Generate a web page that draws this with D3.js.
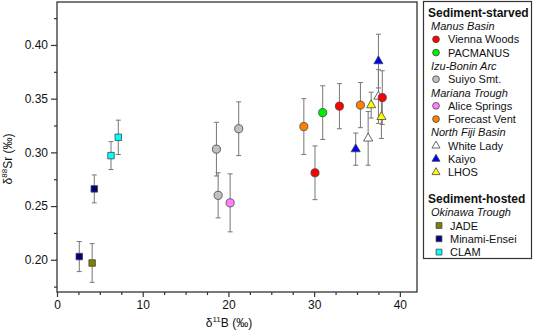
<!DOCTYPE html>
<html>
<head>
<meta charset="utf-8">
<script src="https://cdn.jsdelivr.net/npm/d3@7"></script>
<style>
  body { margin: 0; background: #fff; }
  text { font-family: "Liberation Sans", Arial, sans-serif; fill: #111; }
</style>
</head>
<body>
<div id="chart"></div>
<script>
// each point: [d11B, d88Sr, 2SD error]
const viennaWoods = [[30.1, 0.281, 0.025], [32.95, 0.343, 0.021], [37.95, 0.351, 0.025]];
const pacmanus = [[31.0, 0.337, 0.025]];
const suiyo = [[18.6, 0.303, 0.025], [21.2, 0.322, 0.025], [18.8, 0.260, 0.021]];
const aliceSprings = [[20.2, 0.253, 0.027]];
const forecastVent = [[28.8, 0.324, 0.026], [35.4, 0.344, 0.021]];
const whiteLady = [[36.3, 0.313, 0.025], [37.5, 0.352, 0.025]];
const kaiyo = [[34.85, 0.303, 0.015], [37.5, 0.385, 0.025]];
const lhos = [[36.65, 0.344, 0.012], [37.85, 0.333, 0.020]];
const jade = [[4.1, 0.197, 0.018]];
const minamiEnsei = [[4.35, 0.266, 0.013], [2.6, 0.203, 0.014]];
const clam = [[6.3, 0.297, 0.013], [7.15, 0.314, 0.016]];

const xMajor = [0, 10, 20, 30, 40];
const xMinor = [2.5, 5, 7.5, 12.5, 15, 17.5, 22.5, 25, 27.5, 32.5, 35, 37.5];
const yMajor = [0.20, 0.25, 0.30, 0.35, 0.40];
const yMinor = [0.175, 0.225, 0.275, 0.325, 0.375, 0.425];

// legend rows: kind, label, series
const legendRows = [
    ["group", "Sediment-starved"],
    ["region", "Manus Basin"],
    ["item", "Vienna Woods", "vw"],
    ["item", "PACMANUS", "pm"],
    ["region", "Izu-Bonin Arc"],
    ["item", "Suiyo Smt.", "su"],
    ["region", "Mariana Trough"],
    ["item", "Alice Springs", "as"],
    ["item", "Forecast Vent", "fv"],
    ["region", "North Fiji Basin"],
    ["item", "White Lady", "wl"],
    ["item", "Kaiyo", "ka"],
    ["item", "LHOS", "lh"],
    ["gap", ""],
    ["group", "Sediment-hosted"],
    ["region", "Okinawa Trough"],
    ["item", "JADE", "ja"],
    ["item", "Minami-Ensei", "me"],
    ["item", "CLAM", "cl"]
];

const series = {
    vw: {data: viennaWoods, shape: "circle", fill: "#ff0000"},
    pm: {data: pacmanus, shape: "circle", fill: "#00ee00"},
    su: {data: suiyo, shape: "circle", fill: "#c0c0c0"},
    as: {data: aliceSprings, shape: "circle", fill: "#ff80ff"},
    fv: {data: forecastVent, shape: "circle", fill: "#ff8000"},
    wl: {data: whiteLady, shape: "triangle", fill: "#ffffff"},
    ka: {data: kaiyo, shape: "triangle", fill: "#0000ff"},
    lh: {data: lhos, shape: "triangle", fill: "#ffff00"},
    ja: {data: jade, shape: "square", fill: "#808000"},
    me: {data: minamiEnsei, shape: "square", fill: "#000080"},
    cl: {data: clam, shape: "square", fill: "#00ffff"}
};

const W = 533, H = 335;
const plot = {left: 57, top: 2, right: 417, bottom: 292};

const svg = d3.select("#chart").append("svg")
    .attr("width", W)
    .attr("height", H);

const x = d3.scaleLinear().domain([0, 42]).range([plot.left, plot.right]);
const y = d3.scaleLinear().domain([0.17, 0.44]).range([plot.bottom, plot.top]);

//axes
const gx = svg.append("g").attr("transform", "translate(0," + plot.bottom + ")");
gx.call(d3.axisBottom(x).tickValues(xMajor).tickSize(5).tickPadding(3).tickFormat(d3.format("d")));
gx.append("g").call(d3.axisBottom(x).tickValues(xMinor).tickSize(3).tickFormat(""));
const gy = svg.append("g").attr("transform", "translate(" + plot.left + ",0)");
gy.call(d3.axisLeft(y).tickValues(yMajor).tickSize(6).tickPadding(3).tickFormat(d3.format(".2f")));
gy.append("g").call(d3.axisLeft(y).tickValues(yMinor).tickSize(3).tickFormat(""));
svg.selectAll(".domain").remove();
svg.selectAll(".tick line").attr("stroke", "#333").attr("stroke-width", 1.2);
svg.selectAll(".tick text").attr("font-size", 12).attr("fill", "#111")
    .style("font-family", "'Liberation Sans', Arial, sans-serif");

svg.append("rect")
    .attr("x", plot.left)
    .attr("y", plot.top)
    .attr("width", plot.right - plot.left)
    .attr("height", plot.bottom - plot.top)
    .attr("fill", "none")
    .attr("stroke", "#333")
    .attr("stroke-width", 1.3);

//axis titles
const xt = svg.append("text")
    .attr("x", 229)
    .attr("y", 327)
    .attr("font-size", 12)
    .attr("text-anchor", "middle");
xt.append("tspan").text("δ");
xt.append("tspan").text("11").attr("font-size", 8).attr("dy", -5);
xt.append("tspan").text("B (‰)").attr("dy", 5);

const yt = svg.append("text")
    .attr("transform", "translate(12,159) rotate(-90)")
    .attr("font-size", 12)
    .attr("text-anchor", "middle");
yt.append("tspan").text("δ");
yt.append("tspan").text("88").attr("font-size", 8).attr("dy", -5);
yt.append("tspan").text("Sr (‰)").attr("dy", 5);

function symbolPath(shape, big) {
    if (shape === "circle") return d3.symbol(d3.symbolCircle, big ? 52 : 36)();
    if (shape === "triangle") return d3.symbol(d3.symbolTriangle, big ? 36 : 28)();
    return d3.symbol(d3.symbolSquare, big ? 42 : 34)();
}

//error bars
const keys = Object.keys(series);
const bars = svg.append("g");
keys.forEach(k => {
    series[k].data.forEach(d => {
        const cx = x(d[0]);
        const y0 = y(d[1] - d[2]), y1 = y(d[1] + d[2]);
        bars.append("line").attr("x1", cx).attr("x2", cx).attr("y1", y0).attr("y2", y1);
        bars.append("line").attr("x1", cx - 2.5).attr("x2", cx + 2.5).attr("y1", y0).attr("y2", y0);
        bars.append("line").attr("x1", cx - 2.5).attr("x2", cx + 2.5).attr("y1", y1).attr("y2", y1);
    });
});
bars.selectAll("line").attr("stroke", "#777").attr("stroke-width", 1);

//markers, circles drawn last so they sit on top
const marks = svg.append("g");
keys.slice().reverse().forEach(k => {
    const s = series[k];
    marks.selectAll(null)
        .data(s.data)
        .enter()
        .append("path")
        .attr("d", symbolPath(s.shape, true))
        .attr("transform", d => "translate(" + x(d[0]) + "," + y(d[1]) + ")")
        .attr("fill", s.fill)
        .attr("stroke", "#444")
        .attr("stroke-width", 0.8);
});

//legend
const legend = svg.append("g");
legend.append("rect")
    .attr("x", 423.5)
    .attr("y", 1.5)
    .attr("width", 108)
    .attr("height", 257)
    .attr("fill", "white")
    .attr("stroke", "#333")
    .attr("stroke-width", 1.2);

const rowStep = 13.3;
legendRows.forEach((r, i) => {
    const ry = 12.7 + i * rowStep;
    if (r[0] === "group") {
        legend.append("text")
            .attr("x", 428)
            .attr("y", ry + 4.5)
            .attr("font-size", 12)
            .attr("font-weight", "bold")
            .text(r[1]);
    } else if (r[0] === "region") {
        legend.append("text")
            .attr("x", 431)
            .attr("y", ry + 4)
            .attr("font-size", 11)
            .attr("font-style", "italic")
            .text(r[1]);
    } else if (r[0] === "item") {
        const s = series[r[2]];
        const hosted = s.shape === "square";
        legend.append("path")
            .attr("d", symbolPath(s.shape, false))
            .attr("transform", "translate(" + (hosted ? 439 : 436) + "," + ry + ")")
            .attr("fill", s.fill)
            .attr("stroke", "#444")
            .attr("stroke-width", 0.8);
        legend.append("text")
            .attr("x", hosted ? 450 : 448)
            .attr("y", ry + 4)
            .attr("font-size", 11)
            .text(r[1]);
    }
});
</script>
</body>
</html>
